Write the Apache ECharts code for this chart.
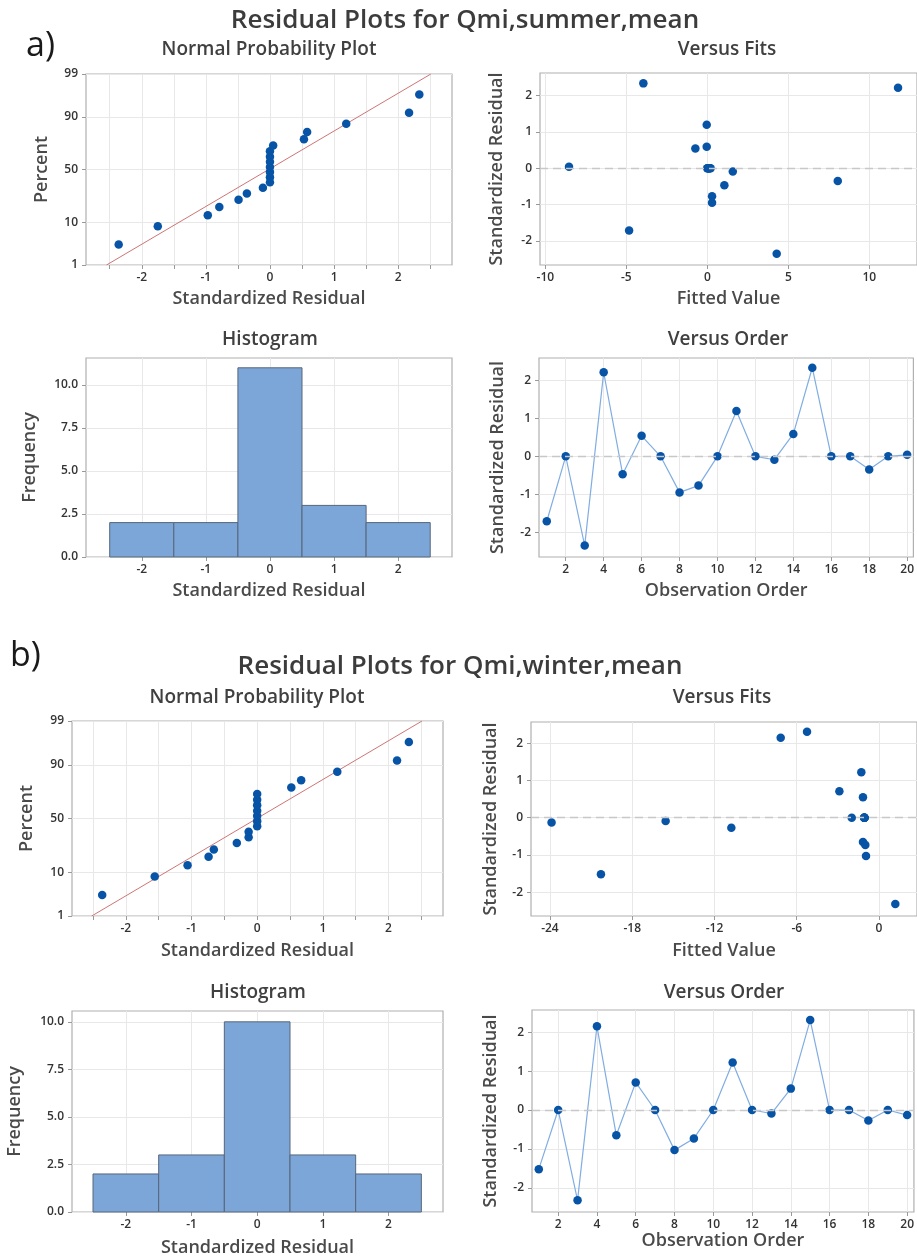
<!DOCTYPE html>
<html>
<head>
<meta charset="utf-8">
<title>Residual Plots</title>
<script src="https://cdn.jsdelivr.net/npm/echarts@6/dist/echarts.min.js"></script>
<style>
  html, body { margin: 0; padding: 0; background: #fff; }
  #chart { width: 917px; height: 1258px; }
</style>
</head>
<body>
<div id="chart"></div>
<script>
// ---- a) summer model ----
var sumResid = [-1.71, 0, -2.35, 2.21, -0.47, 0.54, 0, -0.95, -0.77, 0, 1.19, 0, -0.09, 0.59, 2.33, 0, 0, -0.35, 0, 0.04];
var sumFits = [-4.83, 0.0, 4.28, 11.77, 1.05, -0.74, 0.05, 0.29, 0.29, 0.1, -0.04, 0.15, 1.57, -0.04, -3.95, 0.2, 0.0, 8.05, 0.1, -8.54];
var sumSorted = [-2.36, -1.75, -0.97, -0.79, -0.49, -0.36, -0.11, 0, 0, 0, 0, 0, 0, 0, 0.05, 0.53, 0.58, 1.19, 2.17, 2.33];
var sumCounts = [2, 2, 11, 3, 2];
var sumRefLine = [[-2.55, 1], [2.51, 99]];

// ---- b) winter model ----
var winResid = [-1.52, 0, -2.32, 2.15, -0.65, 0.71, 0, -1.03, -0.73, 0, 1.22, 0, -0.09, 0.55, 2.31, 0, 0, -0.27, 0, -0.13];
var winFits = [-20.28, -1.99, 1.19, -7.17, -1.17, -2.89, -1.07, -0.95, -1.0, -1.07, -1.29, -1.07, -15.56, -1.17, -5.25, -1.07, -1.07, -10.77, -1.07, -23.88];
var winSorted = [-2.36, -1.56, -1.06, -0.74, -0.66, -0.31, -0.13, -0.13, 0, 0, 0, 0, 0, 0, 0, 0.52, 0.67, 1.22, 2.13, 2.31];
var winCounts = [2, 3, 10, 3, 2];
var winRefLine = [[-2.52, 1], [2.51, 99]];

// shared
var nppPercent = [3.4, 8.3, 13.2, 18.1, 23.0, 27.9, 32.8, 37.7, 42.6, 47.5, 52.5, 57.4, 62.3, 67.2, 72.1, 77.0, 81.9, 86.8, 91.7, 96.6];
var percentTicks = [1, 10, 50, 90, 99];
var binEdges = [-2.5, -1.5, -0.5, 0.5, 1.5, 2.5];
var residTicks = [-2, -1, 0, 1, 2];
var halfTicks = [-2.5, -2, -1.5, -1, -0.5, 0, 0.5, 1, 1.5, 2, 2.5];
var freqTicks = [0, 2.5, 5, 7.5, 10];
var orderTicks = [2, 4, 6, 8, 10, 12, 14, 16, 18, 20];
var sumFitTicks = [-10, -5, 0, 5, 10];
var winFitTicks = [-24, -18, -12, -6, 0];

var FONT = '"Open Sans", sans-serif';
var DOT = '#0753a6';

// inverse normal cdf (Acklam) for the normal probability axis
function probit(p) {
  var a = [-3.969683028665376e+01, 2.209460984245205e+02, -2.759285104469687e+02, 1.383577518672690e+02, -3.066479806614716e+01, 2.506628277459239e+00];
  var b = [-5.447609879822406e+01, 1.615858368580409e+02, -1.556989798598866e+02, 6.680131188771972e+01, -1.328068155288572e+01];
  var c = [-7.784894002430293e-03, -3.223964580411365e-01, -2.400758277161838e+00, -2.549732539343734e+00, 4.374664141464968e+00, 2.938163982698783e+00];
  var d = [7.784695709041462e-03, 3.224671290700398e-01, 2.445134137142996e+00, 3.754408661907416e+00];
  var plow = 0.02425, q, r;
  if (p < plow) {
    q = Math.sqrt(-2 * Math.log(p));
    return (((((c[0]*q+c[1])*q+c[2])*q+c[3])*q+c[4])*q+c[5]) / ((((d[0]*q+d[1])*q+d[2])*q+d[3])*q+1);
  }
  if (p > 1 - plow) {
    q = Math.sqrt(-2 * Math.log(1 - p));
    return -(((((c[0]*q+c[1])*q+c[2])*q+c[3])*q+c[4])*q+c[5]) / ((((d[0]*q+d[1])*q+d[2])*q+d[3])*q+1);
  }
  q = p - 0.5; r = q * q;
  return (((((a[0]*r+a[1])*r+a[2])*r+a[3])*r+a[4])*r+a[5])*q / (((((b[0]*r+b[1])*r+b[2])*r+b[3])*r+b[4])*r+1);
}
var pctZ = percentTicks.map(function (p) { return probit(p / 100); });

function axis(gi, min, max, labels, grids, name, gap, isY, fmt) {
  return {
    type: 'value', gridIndex: gi, min: min, max: max,
    name: name, nameLocation: 'middle', nameGap: gap, nameRotate: isY ? 90 : 0,
    nameTextStyle: { fontFamily: FONT, fontSize: 18, fontWeight: 600, color: '#4a4a4a' },
    axisLine: { show: false, onZero: false },
    axisTick: { show: true, length: 4, customValues: grids, lineStyle: { color: '#999' } },
    axisLabel: { customValues: labels, margin: isY ? 8 : 7, fontFamily: FONT, fontSize: 12, fontWeight: 600, color: '#333', formatter: fmt },
    splitLine: { show: true, lineStyle: { color: '#e8e8e8', width: 1 } }
  };
}
function pctFmt(v) {
  for (var i = 0; i < pctZ.length; i++) if (Math.abs(pctZ[i] - v) < 1e-6) return String(percentTicks[i]);
  return '';
}
function freqFmt(v) { return v.toFixed(1); }

var zeroLine = {
  silent: true, symbol: 'none', label: { show: false },
  lineStyle: { color: '#c8c8c8', type: [8, 5], width: 1.3 },
  data: [{ yAxis: 0 }]
};

function nppSeries(gi, sorted, refLine) {
  return [{
    type: 'line', xAxisIndex: gi, yAxisIndex: gi, symbol: 'none', z: 2,
    lineStyle: { color: '#cf7474', width: 1 },
    data: refLine.map(function (p) { return [p[0], probit(p[1] / 100)]; })
  }, {
    type: 'scatter', xAxisIndex: gi, yAxisIndex: gi, symbolSize: 8.5, z: 3,
    itemStyle: { color: DOT, opacity: 1 },
    data: sorted.map(function (x, i) { return [x, probit(nppPercent[i] / 100)]; })
  }];
}
function fitsSeries(gi, fits, resid) {
  return {
    type: 'scatter', xAxisIndex: gi, yAxisIndex: gi, symbolSize: 8.5, z: 3,
    itemStyle: { color: DOT, opacity: 1 }, markLine: zeroLine,
    data: fits.map(function (f, i) { return [f, resid[i]]; })
  };
}
function histSeries(gi, counts) {
  return {
    type: 'custom', xAxisIndex: gi, yAxisIndex: gi,
    encode: { x: [0, 1], y: 2 },
    data: counts.map(function (c, i) { return [binEdges[i], binEdges[i + 1], c]; }),
    renderItem: function (params, api) {
      var p0 = api.coord([api.value(0), api.value(2)]);
      var p1 = api.coord([api.value(1), 0]);
      return {
        type: 'rect',
        shape: { x: p0[0], y: p0[1], width: p1[0] - p0[0], height: p1[1] - p0[1] },
        style: { fill: '#7ca6d8', stroke: '#56667a', lineWidth: 1 }
      };
    }
  };
}
function orderSeries(gi, resid) {
  return {
    type: 'line', xAxisIndex: gi, yAxisIndex: gi, symbol: 'circle', symbolSize: 8.5, z: 3,
    itemStyle: { color: DOT }, lineStyle: { color: '#80ade2', width: 1.2 },
    markLine: zeroLine,
    data: resid.map(function (r, i) { return [i + 1, r]; })
  };
}

function txt(text, x, y, size, color, align, weight) {
  return {
    type: 'text', x: x, y: y, silent: true,
    style: { text: text, fill: color, font: (weight || 'normal') + ' ' + size + 'px ' + FONT, textAlign: align || 'center', textVerticalAlign: 'middle' }
  };
}

var gridBox = { show: true, borderColor: '#b0b0b0', borderWidth: 1.2, backgroundColor: '#fff' };
function g(l, t, w, h) { return Object.assign({ left: l, top: t, width: w, height: h }, gridBox); }

var option = {
  animation: false,
  backgroundColor: '#fff',
  textStyle: { fontFamily: FONT },
  grid: [
    g(86, 74, 366, 191),
    g(540, 73, 377, 192),
    g(86, 358, 366, 199),
    g(539, 358, 378, 199),
    g(72, 721, 371, 195),
    g(531, 722, 386, 194),
    g(72, 1011, 371, 201),
    g(532, 1010, 385, 202)
  ],
  xAxis: [
    axis(0, -2.87, 2.84, residTicks, halfTicks, 'Standardized Residual', 25, false),
    axis(1, -10.33, 12.94, sumFitTicks, sumFitTicks, 'Fitted Value', 25, false),
    axis(2, -2.87, 2.84, residTicks, residTicks, 'Standardized Residual', 25, false),
    axis(3, 0.59, 20.33, orderTicks, orderTicks, 'Observation Order', 25, false),
    axis(4, -2.82, 2.83, residTicks, halfTicks, 'Standardized Residual', 26, false),
    axis(5, -25.38, 2.77, winFitTicks, winFitTicks, 'Fitted Value', 26, false),
    axis(6, -2.82, 2.83, residTicks, residTicks, 'Standardized Residual', 27, false),
    axis(7, 0.65, 20.35, orderTicks, orderTicks, 'Observation Order', 20, false)
  ],
  yAxis: [
    axis(0, pctZ[0], pctZ[4], pctZ, pctZ, 'Percent', 35, true, pctFmt),
    axis(1, -2.66, 2.615, residTicks, residTicks, 'Standardized Residual', 34, true),
    axis(2, 0, 11.57, freqTicks, freqTicks, 'Frequency', 47, true, freqFmt),
    axis(3, -2.65, 2.587, residTicks, residTicks, 'Standardized Residual', 32, true),
    axis(4, pctZ[0], pctZ[4], pctZ, pctZ, 'Percent', 36, true, pctFmt),
    axis(5, -2.64, 2.57, residTicks, residTicks, 'Standardized Residual', 31, true),
    axis(6, 0, 10.57, freqTicks, freqTicks, 'Frequency', 48, true, freqFmt),
    axis(7, -2.62, 2.57, residTicks, residTicks, 'Standardized Residual', 32, true)
  ],
  series: [].concat(
    nppSeries(0, sumSorted, sumRefLine),
    fitsSeries(1, sumFits, sumResid),
    histSeries(2, sumCounts),
    orderSeries(3, sumResid),
    nppSeries(4, winSorted, winRefLine),
    fitsSeries(5, winFits, winResid),
    histSeries(6, winCounts),
    orderSeries(7, winResid)
  ),
  graphic: [
    txt('a)', 26, 46, 34, '#1a1a1a', 'left'),
    txt('b)', 10, 656, 34, '#1a1a1a', 'left'),
    txt('Residual Plots for Qmi,summer,mean', 465, 21, 26, '#3c3c3c', 'center', 600),
    txt('Residual Plots for Qmi,winter,mean', 460, 667, 26, '#3c3c3c', 'center', 600),
    txt('Normal Probability Plot', 269, 50, 19, '#404040', 'center', 600),
    txt('Versus Fits', 727, 50, 19, '#404040', 'center', 600),
    txt('Histogram', 270, 340, 19, '#404040', 'center', 600),
    txt('Versus Order', 728, 340, 19, '#404040', 'center', 600),
    txt('Normal Probability Plot', 257, 698, 19, '#404040', 'center', 600),
    txt('Versus Fits', 722, 698, 19, '#404040', 'center', 600),
    txt('Histogram', 258, 993, 19, '#404040', 'center', 600),
    txt('Versus Order', 724, 993, 19, '#404040', 'center', 600)
  ]
};

var chart = echarts.init(document.getElementById('chart'));
chart.setOption(option);
</script>
</body>
</html>
